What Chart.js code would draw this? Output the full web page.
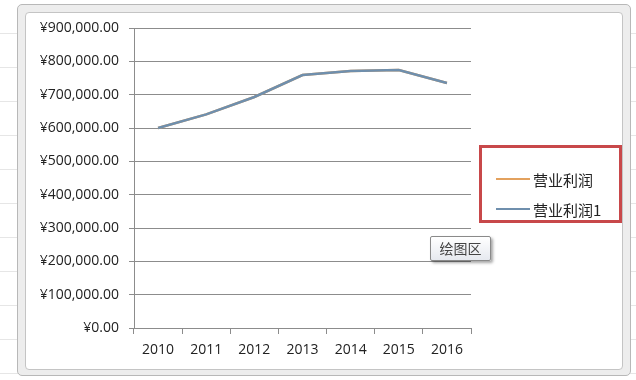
<!DOCTYPE html>
<html>
<head>
<meta charset="utf-8">
<script src="https://cdn.jsdelivr.net/npm/chart.js@4.4.1/dist/chart.umd.min.js"></script>
<style>
  html, body { margin: 0; padding: 0; background: #fff; }
  body { width: 636px; height: 380px; position: relative; overflow: hidden;
         font-family: "Open Sans", "Noto Sans CJK SC", sans-serif; }
  #sheet { position: absolute; left: 0; top: 0; width: 636px; height: 380px;
           background: repeating-linear-gradient(to bottom, #fff 0, #fff 33px, #e6e6e6 33px, #e6e6e6 34px); }
  #outer { position: absolute; left: 17px; top: 4px; width: 614px; height: 372px;
           border: 1px solid #b8b8b8; border-radius: 5px; background: #ededed; box-sizing: border-box; }
  #inner { position: absolute; left: 25px; top: 12px; width: 598px; height: 358px;
           border: 1px solid #c4c4c4; border-radius: 4px; background: #fff; box-sizing: border-box; }
  #wrap { position: absolute; left: 0; top: 0; width: 636px; height: 380px; }
  #legend { position: absolute; left: 479px; top: 145px; width: 137px; height: 72px;
            border: 3px solid #c8484a; background: #fff; box-sizing: content-box; }
  .item { position: absolute; left: 14px; height: 20px; display: flex; align-items: center;
          font-family: "Noto Sans CJK SC", sans-serif; font-size: 15px; color: #222; }
  .item .sw { width: 34px; height: 2px; margin-right: 3px; }
  #tip { position: absolute; left: 430px; top: 236px; width: 59px; height: 23px;
         border: 1px solid #8a8a8a; border-radius: 2px;
         background: linear-gradient(#ffffff, #e6e9ef); box-shadow: 2px 2px 3px rgba(0,0,0,0.35);
         font-family: "Noto Sans CJK SC", sans-serif; font-size: 14px; color: #444;
         line-height: 23px; text-align: center; }
</style>
</head>
<body>
<div id="sheet"></div>
<div id="outer"></div>
<div id="inner"></div>
<div id="wrap"><canvas id="c" width="636" height="380"></canvas></div>
<div id="legend"></div>
<div id="tip">绘图区</div>
<script>
const categories = ["2010", "2011", "2012", "2013", "2014", "2015", "2016"];
const seriesNames = ["营业利润", "营业利润1"];
const profit  = [600000, 641000, 693000, 759000, 771000, 774000, 735000];
const profit1 = [600000, 641000, 693000, 759000, 771000, 774000, 735000];
const yTicks = [0, 100000, 200000, 300000, 400000, 500000, 600000, 700000, 800000, 900000];
const colors = ["#E3A15E", "#6F8FAD"];

const fmt = v => "¥" + Number(v).toLocaleString("en-US", {minimumFractionDigits: 2, maximumFractionDigits: 2});

const chart = new Chart(document.getElementById("c"), {
  type: "line",
  data: {
    labels: categories,
    datasets: [
      { label: seriesNames[0], data: profit, borderColor: colors[0], backgroundColor: colors[0],
        borderWidth: 2.5, pointRadius: 0, tension: 0, order: 2 },
      { label: seriesNames[1], data: profit1, borderColor: colors[1], backgroundColor: colors[1],
        borderWidth: 2.5, pointRadius: 0, tension: 0, order: 1 }
    ]
  },
  options: {
    responsive: false,
    animation: false,
    devicePixelRatio: 1,
    layout: { padding: { left: 0, right: 165, top: 28, bottom: 0 } },
    plugins: { legend: { display: false }, tooltip: { enabled: false } },
    scales: {
      x: {
        offset: true,
        grid: { offset: true, drawOnChartArea: false, drawTicks: true, tickLength: 6, color: "#8c8c8c" },
        border: { display: true, color: "#8c8c8c", width: 1 },
        ticks: { color: "#222", padding: 8, font: { family: "Open Sans", size: 14 }, maxRotation: 0 },
        afterFit: s => { s.height = 52; }
      },
      y: {
        min: 0, max: 900000,
        afterBuildTicks: s => { s.ticks = yTicks.map(v => ({ value: v })); },
        grid: { color: "#8c8c8c", lineWidth: 1, tickLength: 5 },
        border: { display: true, color: "#8c8c8c", width: 1 },
        ticks: { color: "#222", padding: 10, font: { family: "Open Sans", size: 14 }, callback: v => fmt(v) },
        afterFit: s => { s.width = 134; }
      }
    }
  }
});

const legend = document.getElementById("legend");
chart.data.datasets.forEach((ds, i) => {
  const it = document.createElement("div");
  it.className = "item";
  it.style.top = (21 + i * 30) + "px";
  it.innerHTML = '<span class="sw" style="background:' + ds.borderColor + '"></span><span>' + ds.label + '</span>';
  legend.appendChild(it);
});
</script>
</body>
</html>
